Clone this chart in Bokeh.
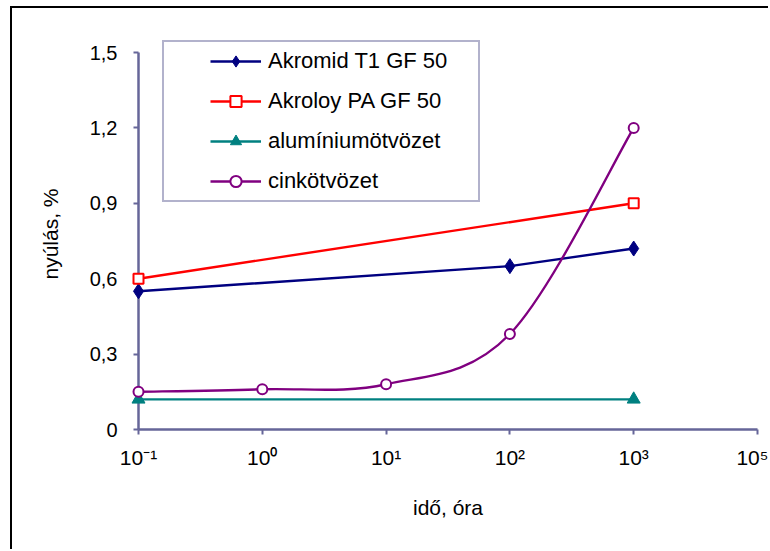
import math
from bokeh.plotting import figure
from bokeh.models import Range1d, FixedTicker, Legend, LegendItem
from bokeh.embed import file_html
from bokeh.resources import INLINE

# ---- data ----
akromid_x = [0.1, 100, 1000]
akromid_y = [0.55, 0.65, 0.72]
akroloy_x = [0.1, 1000]
akroloy_y = [0.60, 0.90]
alu_x = [0.1, 1000]
alu_y = [0.12, 0.12]
cink_x = [0.1, 1, 10, 100, 1000]
cink_y = [0.15, 0.16, 0.18, 0.38, 1.20]

series_names = ["Akromid T1 GF 50", "Akroloy PA GF 50", "alumíniumötvözet", "cinkötvözet"]

x_ticks = [0.1, 1, 10, 100, 1000, 10000]
x_tick_labels = ["10⁻¹", "10⁰", "10¹", "10²", "10³", "10⁵"]
y_ticks = [0, 0.3, 0.6, 0.9, 1.2, 1.5]
y_tick_labels = ["0", "0,3", "0,6", "0,9", "1,2", "1,5"]

FONT = "Liberation Sans"
AXIS_COLOR = "#666699"


def smooth_segments(xs, ys):
    """Bezier control points (Catmull-Rom style, like Excel's smoothed line),
    computed in log-x space so the shape follows the screen mapping."""
    lx = [math.log10(v) for v in xs]
    n = len(xs)
    out = dict(x0=[], y0=[], x1=[], y1=[], cx0=[], cy0=[], cx1=[], cy1=[])
    for i in range(n - 1):
        i0 = max(i - 1, 0)
        i3 = min(i + 2, n - 1)
        c0x = lx[i] + (lx[i + 1] - lx[i0]) / 6
        c0y = ys[i] + (ys[i + 1] - ys[i0]) / 6
        c1x = lx[i + 1] - (lx[i3] - lx[i]) / 6
        c1y = ys[i + 1] - (ys[i3] - ys[i]) / 6
        out["x0"].append(xs[i]); out["y0"].append(ys[i])
        out["x1"].append(xs[i + 1]); out["y1"].append(ys[i + 1])
        out["cx0"].append(10 ** c0x); out["cy0"].append(c0y)
        out["cx1"].append(10 ** c1x); out["cy1"].append(c1y)
    return out


# plot area: 377 px for 0..1.5, plus 14 px of head room so the legend is not clipped
AXIS_PX = 377
HEAD_PX = 14
y_max = y_ticks[-1]

p = figure(
    width=758, height=543,
    x_axis_type="log",
    x_range=Range1d(0.1, 10000),
    y_range=Range1d(0, y_max * (1 + HEAD_PX / AXIS_PX)),
    output_backend="svg", toolbar_location=None,
    min_border_left=126, min_border_right=13,
    min_border_top=44 - HEAD_PX, min_border_bottom=122,
)
p.margin = (6, 0, 0, 10)
p.styles = {"border-left": "2px solid black", "border-top": "2px solid black"}
p.xgrid.visible = False
p.ygrid.visible = False
p.outline_line_color = None
p.background_fill_color = "white"
p.border_fill_color = "white"

# x axis
xa = p.xaxis[0]
xa.ticker = FixedTicker(ticks=x_ticks)
xa.major_label_overrides = dict(zip(x_ticks, x_tick_labels))
xa.minor_tick_line_color = None
xa.major_tick_out = 5
xa.major_tick_in = 0
xa.axis_line_color = AXIS_COLOR
xa.axis_line_width = 2.5
xa.major_tick_line_color = AXIS_COLOR
xa.major_tick_line_width = 2
xa.major_label_text_font = FONT
xa.major_label_text_font_size = "21px"
xa.major_label_text_color = "black"
xa.major_label_standoff = 11
xa.axis_label = "idő, óra"
xa.axis_label_text_font = FONT
xa.axis_label_text_font_size = "21px"
xa.axis_label_text_font_style = "normal"
xa.axis_label_text_color = "black"
xa.axis_label_standoff = 24

# y axis
ya = p.yaxis[0]
ya.ticker = FixedTicker(ticks=y_ticks)
ya.major_label_overrides = dict(zip(y_ticks, y_tick_labels))
ya.bounds = (0, y_max)
ya.minor_tick_line_color = None
ya.major_tick_out = 5
ya.major_tick_in = 0
ya.axis_line_color = AXIS_COLOR
ya.axis_line_width = 2.5
ya.major_tick_line_color = AXIS_COLOR
ya.major_tick_line_width = 2
ya.major_label_text_font = FONT
ya.major_label_text_font_size = "20px"
ya.major_label_text_color = "black"
ya.major_label_standoff = 16
ya.axis_label = "nyúlás, %"
ya.axis_label_text_font = FONT
ya.axis_label_text_font_size = "21px"
ya.axis_label_text_font_style = "normal"
ya.axis_label_text_color = "black"
ya.axis_label_standoff = 25

LW = 2.4
l1 = p.line(akromid_x, akromid_y, line_color="#000080", line_width=LW)
l2 = p.line(akroloy_x, akroloy_y, line_color="#FF0000", line_width=LW)
l3 = p.line(alu_x, alu_y, line_color="#008080", line_width=LW)
seg = smooth_segments(cink_x, cink_y)
l4 = p.bezier(x0=seg["x0"], y0=seg["y0"], x1=seg["x1"], y1=seg["y1"],
              cx0=seg["cx0"], cy0=seg["cy0"], cx1=seg["cx1"], cy1=seg["cy1"],
              line_color="#800080", line_width=LW)

m1 = p.scatter(akromid_x, akromid_y, marker="diamond", size=15,
               fill_color="#000080", line_color="#000080", line_width=1, level="overlay")
m2 = p.scatter(akroloy_x, akroloy_y, marker="square", size=10,
               fill_color="white", line_color="#FF0000", line_width=2, level="overlay")
m3 = p.scatter(alu_x, alu_y, marker="triangle", size=13,
               fill_color="#008080", line_color="#008080", line_width=1, level="overlay")
m4 = p.scatter(cink_x, cink_y, marker="circle", size=10,
               fill_color="white", line_color="#800080", line_width=2, level="overlay")

legend = Legend(
    items=[
        LegendItem(label=series_names[0], renderers=[l1, m1]),
        LegendItem(label=series_names[1], renderers=[l2, m2]),
        LegendItem(label=series_names[2], renderers=[l3, m3]),
        LegendItem(label=series_names[3], renderers=[l4, m4]),
    ],
    location=(24, 227),
    title=" ", title_location="left", title_standoff=30,
    title_text_font_size="10px", title_text_color="white",
    padding=5, margin=0, spacing=12,
    glyph_width=51, glyph_height=28, label_height=28, label_standoff=7,
    label_width=205,
    border_line_color=AXIS_COLOR, border_line_width=2,
    background_fill_color="white", background_fill_alpha=1,
    label_text_font=FONT, label_text_font_size="22px", label_text_color="black",
)
p.add_layout(legend)

open("out.html", "w").write(file_html(p, INLINE))
